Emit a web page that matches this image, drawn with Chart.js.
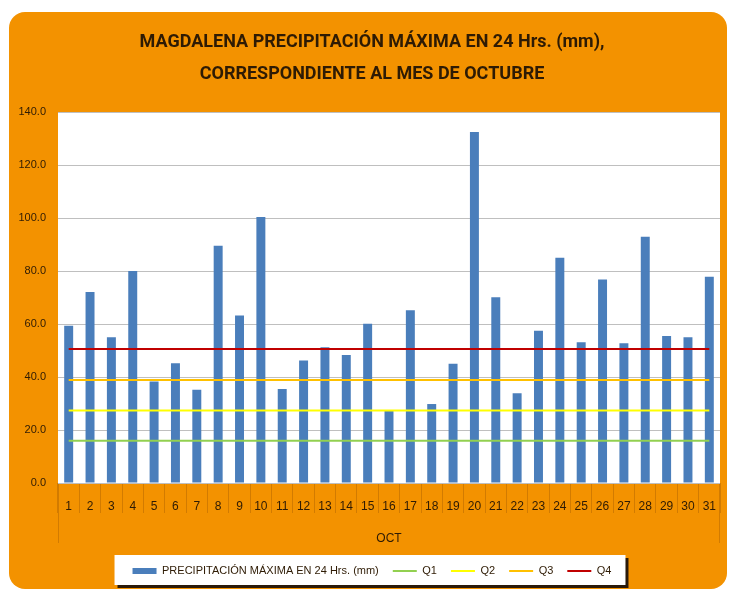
<!DOCTYPE html>
<html>
<head>
<meta charset="utf-8">
<script src="https://cdn.jsdelivr.net/npm/chart.js@4"></script>
<style>
  html, body { margin: 0; padding: 0; background: #ffffff; }
  #wrap { width: 730px; height: 590px; }
</style>
</head>
<body>
<div id="wrap"><canvas id="mainChart" width="730" height="590"></canvas></div>
<script>
// days of october and max 24h rainfall (mm)
const days = ['1','2','3','4','5','6','7','8','9','10','11','12','13','14','15','16',
              '17','18','19','20','21','22','23','24','25','26','27','28','29','30','31'];
const precip = [59.3, 72.1, 55.0, 80.0, 38.3, 45.2, 35.2, 89.5, 63.2, 100.4, 35.5,
                46.2, 51.2, 48.3, 60.1, 27.2, 65.2, 29.8, 45.0, 132.5, 70.1, 33.9,
                57.5, 85.0, 53.1, 76.8, 52.7, 92.9, 55.5, 55.0, 77.8];
const quartileNames = ['Q1', 'Q2', 'Q3', 'Q4'];
const quartileValues = [15.9, 27.4, 38.9, 50.6];
const yTicks = [0, 20, 40, 60, 80, 100, 120, 140];

const FONT = "'Liberation Sans', Arial, sans-serif";
const TITLE_FONT = "Roboto, 'Liberation Sans', sans-serif";
const DARK = '#2e1b04';
const quartileColors = ['#92D050', '#FFFF00', '#FFC000', '#C00000'];

function roundRect(ctx, x, y, w, h, r) {
    ctx.beginPath();
    ctx.moveTo(x + r, y);
    ctx.arcTo(x + w, y, x + w, y + h, r);
    ctx.arcTo(x + w, y + h, x, y + h, r);
    ctx.arcTo(x, y + h, x, y, r);
    ctx.arcTo(x, y, x + w, y, r);
    ctx.closePath();
}

// orange card, white plot area and legend frame
const backdrop = {
    id: 'backdrop',
    afterLayout(chart) {
        // title and legend sit a bit right of centre in the original
        [chart.legend, chart.titleBlock].forEach(box => {
            if (box) {
                box.left += 7;
                box.right += 7;
            }
        });
    },
    beforeDraw(chart) {
        const ctx = chart.ctx;
        const area = chart.chartArea;
        ctx.save();
        ctx.fillStyle = '#F39200';
        roundRect(ctx, 9, 12, 718, 577, 16);
        ctx.fill();
        ctx.fillStyle = '#ffffff';
        ctx.fillRect(area.left, area.top, area.right - area.left, area.bottom - area.top);

        // outer dividers of the month group reach down to the OCT row
        ctx.strokeStyle = 'rgba(150, 80, 0, 0.35)';
        ctx.lineWidth = 1;
        ctx.beginPath();
        ctx.moveTo(area.left + 0.5, area.bottom);
        ctx.lineTo(area.left + 0.5, area.bottom + 60);
        ctx.moveTo(area.right - 0.5, area.bottom);
        ctx.lineTo(area.right - 0.5, area.bottom + 60);
        ctx.stroke();

        const lg = chart.legend;
        if (lg && lg.legendHitBoxes && lg.legendHitBoxes.length) {
            const hb = lg.legendHitBoxes;
            const x0 = Math.min(...hb.map(h => h.left)) - 18;
            const x1 = Math.max(...hb.map(h => h.left + h.width)) + 14;
            const mid = hb[0].top + hb[0].height / 2;
            const y0 = mid - 16;
            const h = 30;
            ctx.fillStyle = '#2a1a0a';
            ctx.fillRect(x0 + 3, y0 + 3, x1 - x0, h);
            ctx.fillStyle = '#ffffff';
            ctx.fillRect(x0, y0, x1 - x0, h);
        }
        ctx.restore();
    }
};

const datasets = [{
    type: 'bar',
    label: 'PRECIPITACIÓN MÁXIMA EN 24 Hrs. (mm)',
    data: precip,
    backgroundColor: '#4A7EBB',
    borderWidth: 0,
    categoryPercentage: 1.0,
    barPercentage: 0.42,
    pointStyle: 'rect',
    order: 1
}];
quartileNames.forEach((name, i) => {
    datasets.push({
        type: 'line',
        label: name,
        data: [{ x: days[0], y: quartileValues[i] }, { x: days[days.length - 1], y: quartileValues[i] }],
        borderColor: quartileColors[i],
        backgroundColor: quartileColors[i],
        borderWidth: 2,
        pointRadius: 0,
        pointStyle: 'line',
        fill: false,
        order: 0
    });
});

new Chart(document.getElementById('mainChart').getContext('2d'), {
    data: { labels: days, datasets: datasets },
    plugins: [backdrop],
    options: {
        responsive: false,
        devicePixelRatio: 1,
        animation: false,
        layout: { padding: { left: 10, right: 10, top: 12, bottom: 3.5 } },
        plugins: {
            title: {
                display: true,
                text: ['MAGDALENA PRECIPITACIÓN MÁXIMA EN 24 Hrs. (mm),', 'CORRESPONDIENTE AL MES DE OCTUBRE'],
                color: DARK,
                font: { family: TITLE_FONT, size: 18, weight: 'bold', lineHeight: 1.75 },
                padding: { top: 15, bottom: 22 }
            },
            legend: {
                position: 'bottom',
                labels: {
                    color: DARK,
                    font: { family: FONT, size: 11 },
                    usePointStyle: true,
                    pointStyleWidth: 24,
                    boxHeight: 6,
                    padding: 14,
                    sort: (a, b) => a.datasetIndex - b.datasetIndex
                }
            },
            tooltip: { enabled: false }
        },
        scales: {
            x: {
                offset: true,
                grid: {
                    offset: true,
                    drawOnChartArea: false,
                    tickLength: 30,
                    color: 'rgba(150, 80, 0, 0.35)'
                },
                border: { display: false },
                ticks: {
                    color: DARK,
                    font: { family: FONT, size: 12 },
                    padding: -14,
                    maxRotation: 0,
                    autoSkip: false
                },
                title: {
                    display: true,
                    text: 'OCT',
                    color: DARK,
                    font: { family: FONT, size: 12 },
                    padding: { top: 4, bottom: 6 }
                },
                afterFit: scale => { scale.height = 68.5; }
            },
            y: {
                min: 0,
                max: 140,
                afterBuildTicks: scale => { scale.ticks = yTicks.map(v => ({ value: v })); },
                grid: {
                    color: '#BFBFBF',
                    drawTicks: false
                },
                border: { display: false },
                ticks: {
                    color: DARK,
                    font: { family: FONT, size: 11 },
                    padding: 12,
                    callback: value => value.toFixed(1)
                },
                afterFit: scale => { scale.width = 48; }
            }
        }
    }
});
</script>
</body>
</html>
